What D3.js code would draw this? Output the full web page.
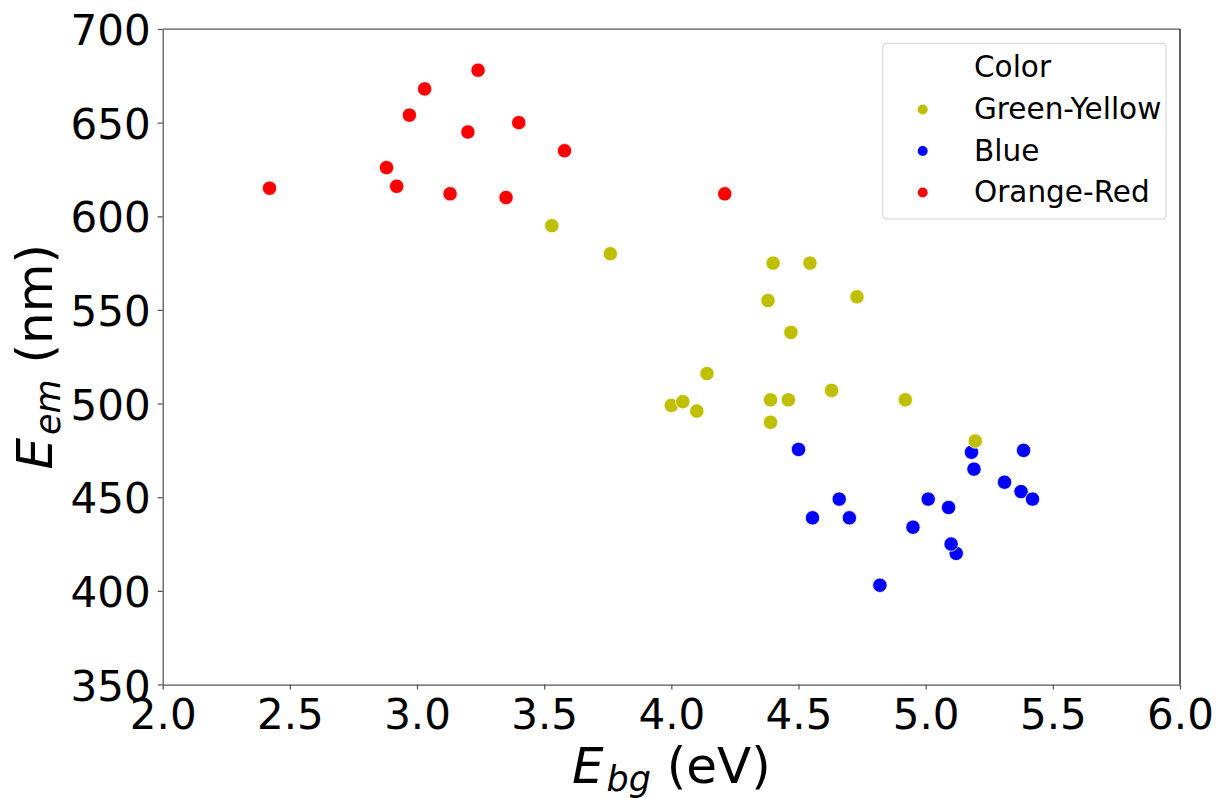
<!DOCTYPE html>
<html>
<head>
<meta charset="utf-8">
<script src="https://cdn.jsdelivr.net/npm/d3@7"></script>
<style>
  html, body { margin: 0; padding: 0; background: #fff; }
  svg { display: block; font-family: "DejaVu Sans", sans-serif; }
</style>
</head>
<body>
<svg id="chart" width="1219" height="798"></svg>
<script>
// ---- data ----
const categories = ["Green-Yellow", "Blue", "Orange-Red"];
const categoryColors = ["#bfbf00", "#0000ff", "#ff0000"];

const greenYellowX = [3.53, 3.76, 4.40, 4.545, 4.38, 4.73, 4.47, 4.14, 4.00, 4.045, 4.10, 4.39, 4.46, 4.63, 4.92, 4.39, 5.195];
const greenYellowY = [595, 580, 575, 575, 555, 557, 538, 516, 499, 501, 496, 502, 502, 507, 502, 490, 480];

const blueX = [4.50, 5.18, 5.385, 5.19, 5.31, 5.375, 5.42, 4.66, 4.555, 4.70, 5.01, 5.09, 4.95, 5.12, 5.10, 4.82];
const blueY = [475.5, 474, 475, 465, 458, 453, 449, 449, 439, 439, 449, 444.5, 434, 420, 425, 403];

const orangeRedX = [2.42, 2.88, 2.92, 2.97, 3.03, 3.13, 3.20, 3.24, 3.35, 3.40, 3.58, 4.21];
const orangeRedY = [615, 626, 616, 654, 668, 612, 645, 678, 610, 650, 635, 612];

const xTicks = [2.0, 2.5, 3.0, 3.5, 4.0, 4.5, 5.0, 5.5, 6.0];
const yTicks = [350, 400, 450, 500, 550, 600, 650, 700];

// ---- layout ----
const svg = d3.select("#chart");
const plotLeft = 162.7, plotRight = 1180, plotTop = 29, plotBottom = 684.5;

const x = d3.scaleLinear().domain([2, 6]).range([plotLeft, plotRight]);
const y = d3.scaleLinear().domain([350, 700]).range([plotBottom, plotTop]);
const color = d3.scaleOrdinal().domain(categories).range(categoryColors);

// points (draw order: blue, green-yellow, orange-red)
const seriesX = { "Green-Yellow": greenYellowX, "Blue": blueX, "Orange-Red": orangeRedX };
const seriesY = { "Green-Yellow": greenYellowY, "Blue": blueY, "Orange-Red": orangeRedY };
const drawOrder = ["Blue", "Green-Yellow", "Orange-Red"];
const points = [];
drawOrder.forEach(c => seriesX[c].forEach((v, i) => points.push({ c, x: v, y: seriesY[c][i] })));

svg.append("g").selectAll("circle").data(points).join("circle")
  .attr("cx", d => x(d.x))
  .attr("cy", d => y(d.y))
  .attr("r", 7.2)
  .attr("fill", d => color(d.c))
  .attr("stroke", "#fff")
  .attr("stroke-width", 0.8);

// spines
const spineColor = "#555";
svg.append("line").attr("x1", plotLeft).attr("x2", plotRight).attr("y1", plotTop).attr("y2", plotTop)
  .attr("stroke", spineColor).attr("stroke-width", 1.25);
svg.append("line").attr("x1", plotRight).attr("x2", plotRight).attr("y1", plotTop).attr("y2", plotBottom)
  .attr("stroke", "#000").attr("stroke-width", 1.25);

// x axis
const xAxis = svg.append("g").attr("transform", `translate(0,${plotBottom})`)
  .call(d3.axisBottom(x).tickValues(xTicks).tickFormat(d3.format(".1f")).tickSize(5).tickSizeOuter(0));
xAxis.select(".domain").attr("stroke", spineColor).attr("stroke-width", 1.25);
xAxis.selectAll(".tick line").attr("stroke", spineColor).attr("stroke-width", 1.25);
xAxis.selectAll(".tick text").attr("y", 44).attr("dy", null)
  .attr("font-size", 42).attr("font-family", "DejaVu Sans").attr("fill", "#000");

// y axis
const yAxis = svg.append("g").attr("transform", `translate(${plotLeft},0)`)
  .call(d3.axisLeft(y).tickValues(yTicks).tickFormat(d3.format("d")).tickSize(5).tickSizeOuter(0));
yAxis.select(".domain").attr("stroke", spineColor).attr("stroke-width", 1.25);
yAxis.selectAll(".tick line").attr("stroke", spineColor).attr("stroke-width", 1.25);
yAxis.selectAll(".tick text").attr("x", -12).attr("dy", 15.5)
  .attr("font-size", 42).attr("font-family", "DejaVu Sans").attr("fill", "#000");

// x label
const xl = svg.append("text").attr("x", (plotLeft + plotRight) / 2).attr("y", 783)
  .attr("text-anchor", "middle").attr("font-size", 50).attr("fill", "#000");
xl.append("tspan").attr("font-style", "italic").text("E");
xl.append("tspan").attr("font-style", "italic").attr("font-size", 35).attr("dx", 3).attr("dy", 8).text("bg");
xl.append("tspan").attr("dy", -8).text(" (eV)");

// y label
const yl = svg.append("text")
  .attr("transform", `translate(52,${(plotTop + plotBottom) / 2}) rotate(-90)`)
  .attr("text-anchor", "middle").attr("font-size", 50).attr("fill", "#000");
yl.append("tspan").attr("font-style", "italic").text("E");
yl.append("tspan").attr("font-style", "italic").attr("font-size", 35).attr("dx", 3).attr("dy", 8).text("em");
yl.append("tspan").attr("dy", -8).text(" (nm)");

// legend
const lg = svg.append("g");
lg.append("rect").attr("x", 882.7).attr("y", 43.3).attr("width", 283.3).attr("height", 175.7)
  .attr("rx", 4).attr("fill", "#fff").attr("fill-opacity", 0.8)
  .attr("stroke", "#d0d0d0").attr("stroke-width", 1);
lg.append("text").attr("x", 974).attr("y", 77).attr("font-size", 29.5).attr("fill", "#000").text("Color");
const rowY = [119, 160.5, 202];
categories.forEach((c, i) => {
  lg.append("circle").attr("cx", 922.7).attr("cy", rowY[i] - 9.5).attr("r", 5).attr("fill", color(c));
  lg.append("text").attr("x", 974).attr("y", rowY[i]).attr("font-size", 29.5).attr("fill", "#000").text(c);
});
</script>
</body>
</html>
